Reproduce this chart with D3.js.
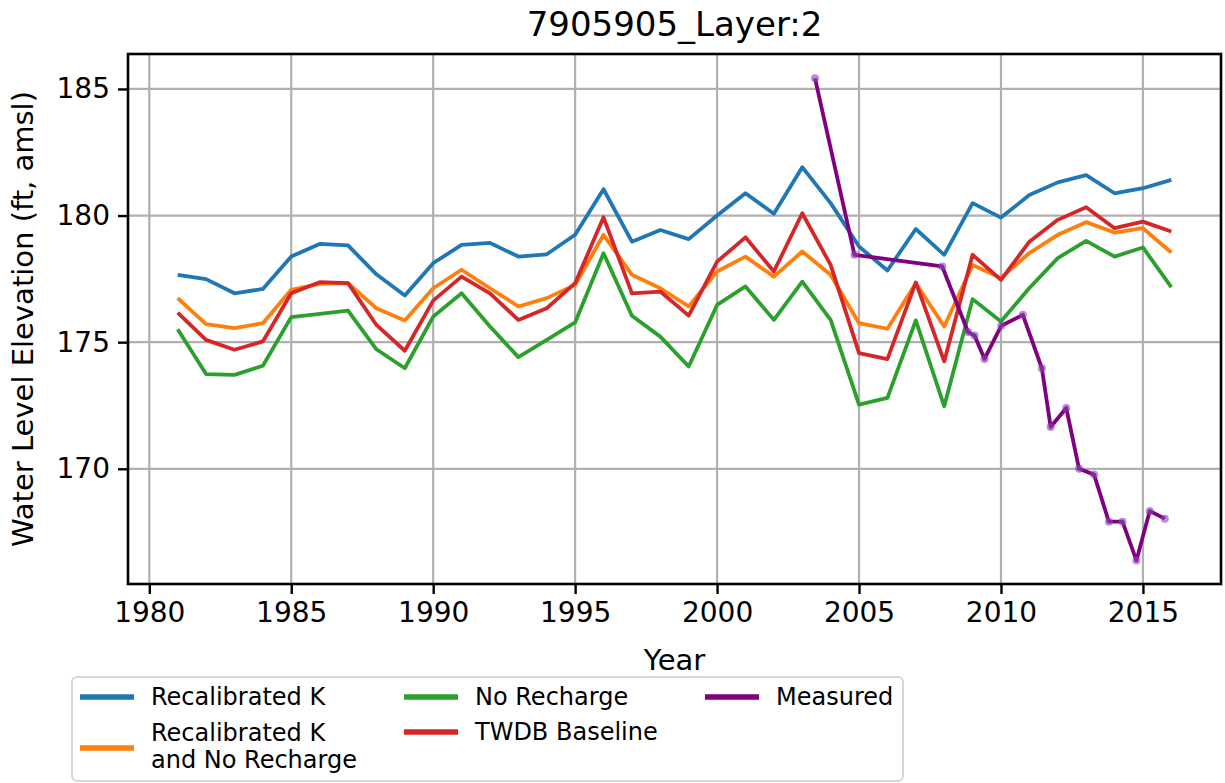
<!DOCTYPE html>
<html>
<head>
<meta charset="utf-8">
<script src="https://cdn.jsdelivr.net/npm/d3@7"></script>
<style>
    body { margin: 0; background: #fff; }
    text { font-family: 'DejaVu Sans', sans-serif; fill: #000; }
</style>
</head>
<body>
<svg id="chart" width="1225" height="783"></svg>
<script>
const years = d3.range(1981, 2017);

const recalK = [
    177.66, 177.49, 176.93, 177.10, 178.38, 178.88, 178.82, 177.68, 176.84, 178.12,
    178.84, 178.92, 178.38, 178.47, 179.24, 181.04, 178.97, 179.43, 179.07, 180.00,
    180.88, 180.07, 181.91, 180.49, 178.78, 177.83, 179.47, 178.45, 180.49, 179.92,
    180.81, 181.31, 181.60, 180.88, 181.08, 181.41,
];
const recalKNoRecharge = [
    176.74, 175.71, 175.55, 175.75, 177.07, 177.30, 177.33, 176.34, 175.86, 177.13,
    177.86, 177.13, 176.41, 176.74, 177.26, 179.24, 177.66, 177.13, 176.41, 177.79,
    178.38, 177.59, 178.58, 177.66, 175.75, 175.53, 177.33, 175.62, 178.05, 177.53,
    178.52, 179.24, 179.74, 179.33, 179.50, 178.54,
];
const noRecharge = [
    175.51, 173.74, 173.71, 174.07, 175.99, 176.12, 176.25, 174.72, 173.97, 176.01,
    176.93, 175.62, 174.41, 175.09, 175.78, 178.51, 176.04, 175.22, 174.04, 176.47,
    177.20, 175.88, 177.39, 175.88, 172.53, 172.80, 175.86, 172.47, 176.70, 175.82,
    177.14, 178.32, 179.00, 178.38, 178.74, 177.17,
];
const twdbBaseline = [
    176.17, 175.09, 174.70, 175.03, 176.93, 177.37, 177.33, 175.68, 174.66, 176.64,
    177.59, 176.93, 175.88, 176.34, 177.33, 179.93, 176.93, 177.00, 176.05, 178.18,
    179.14, 177.79, 180.09, 178.05, 174.57, 174.33, 177.36, 174.24, 178.45, 177.46,
    178.97, 179.83, 180.33, 179.50, 179.76, 179.37,
];

// measured dates are decimal years
const measuredDates = [
    2003.45, 2004.84, 2007.93, 2008.84, 2009.07, 2009.42, 2010.01, 2010.77, 2011.44,
    2011.75, 2012.30, 2012.75, 2013.28, 2013.80, 2014.28, 2014.77, 2015.24, 2015.77,
];
const measuredValues = [
    185.42, 178.45, 177.99, 175.40, 175.26, 174.34, 175.65, 176.08, 173.97,
    171.65, 172.40, 170.00, 169.77, 167.91, 167.91, 166.38, 168.33, 168.03,
];

const xTicks = [1980, 1985, 1990, 1995, 2000, 2005, 2010, 2015];
const yTicks = [170, 175, 180, 185];

const title = '7905905_Layer:2';
const xLabel = 'Year';
const yLabel = 'Water Level Elevation (ft, amsl)';

const series = [
    { name: 'Recalibrated K', values: recalK, color: '#1f77b4' },
    { name: 'Recalibrated K\nand No Recharge', values: recalKNoRecharge, color: '#ff7f0e' },
    { name: 'No Recharge', values: noRecharge, color: '#2ca02c' },
    { name: 'TWDB Baseline', values: twdbBaseline, color: '#d62728' },
];
const measuredColor = '#800080';

const plot = { left: 128, right: 1221, top: 54, bottom: 584 };

const svg = d3.select('#chart');

const x = d3.scaleLinear().domain([1979.25, 2017.75]).range([plot.left, plot.right]);
const y = d3.scaleLinear().domain([165.45, 186.38]).range([plot.bottom, plot.top]);

// grid
const grid = svg.append('g');
xTicks.forEach((t) =>
{
    grid.append('line')
        .attr('x1', x(t)).attr('x2', x(t))
        .attr('y1', plot.top).attr('y2', plot.bottom)
        .attr('stroke', '#b0b0b0').attr('stroke-width', 2.2);
});
yTicks.forEach((t) =>
{
    grid.append('line')
        .attr('x1', plot.left).attr('x2', plot.right)
        .attr('y1', y(t)).attr('y2', y(t))
        .attr('stroke', '#b0b0b0').attr('stroke-width', 2.2);
});

const line = d3.line()
    .x(d => x(d[0]))
    .y(d => y(d[1]));

svg.append('clipPath').attr('id', 'plotClip')
    .append('rect')
    .attr('x', plot.left).attr('y', plot.top)
    .attr('width', plot.right - plot.left).attr('height', plot.bottom - plot.top);

const lines = svg.append('g').attr('clip-path', 'url(#plotClip)');

series.forEach((s) =>
{
    lines.append('path')
        .datum(years.map((yr, i) => [yr, s.values[i]]))
        .attr('d', line)
        .attr('fill', 'none')
        .attr('stroke', s.color)
        .attr('stroke-width', 3.8)
        .attr('stroke-linejoin', 'round');
});

const measured = measuredDates.map((d, i) => [d, measuredValues[i]]);
lines.append('path')
    .datum(measured)
    .attr('d', line)
    .attr('fill', 'none')
    .attr('stroke', measuredColor)
    .attr('stroke-width', 3.8)
    .attr('stroke-linejoin', 'round');
lines.selectAll('circle.meas')
    .data(measured)
    .enter()
    .append('circle')
    .attr('class', 'meas')
    .attr('cx', d => x(d[0]))
    .attr('cy', d => y(d[1]))
    .attr('r', 4)
    .attr('fill', '#8a3fb8')
    .attr('fill-opacity', 0.6);

// axes
const xAxis = svg.append('g')
    .attr('transform', `translate(0,${plot.bottom})`)
    .call(d3.axisBottom(x).tickValues(xTicks).tickFormat(d3.format('d')).tickSizeOuter(0).tickSize(10).tickPadding(8));
const yAxis = svg.append('g')
    .attr('transform', `translate(${plot.left},0)`)
    .call(d3.axisLeft(y).tickValues(yTicks).tickFormat(d3.format('d')).tickSizeOuter(0).tickSize(10).tickPadding(8));

[xAxis, yAxis].forEach((a) =>
{
    a.select('.domain').remove();
    a.selectAll('.tick line').attr('stroke', '#000').attr('stroke-width', 2.4);
    a.selectAll('.tick text')
        .style('font-family', "'DejaVu Sans', sans-serif")
        .style('font-size', '28px')
        .attr('fill', '#000');
});

svg.append('rect')
    .attr('x', plot.left).attr('y', plot.top)
    .attr('width', plot.right - plot.left).attr('height', plot.bottom - plot.top)
    .attr('fill', 'none')
    .attr('stroke', '#000')
    .attr('stroke-width', 2.6);

// titles
svg.append('text')
    .attr('x', (plot.left + plot.right) / 2)
    .attr('y', 36)
    .attr('text-anchor', 'middle')
    .style('font-size', '34px')
    .text(title);

svg.append('text')
    .attr('x', (plot.left + plot.right) / 2)
    .attr('y', 670)
    .attr('text-anchor', 'middle')
    .style('font-size', '29px')
    .text(xLabel);

svg.append('text')
    .attr('transform', `translate(33,${(plot.top + plot.bottom) / 2}) rotate(-90)`)
    .attr('text-anchor', 'middle')
    .style('font-size', '29px')
    .text(yLabel);

// legend
const legend = svg.append('g');
legend.append('rect')
    .attr('x', 72).attr('y', 677)
    .attr('width', 831).attr('height', 104)
    .attr('rx', 5)
    .attr('fill', '#fff')
    .attr('fill-opacity', 0.8)
    .attr('stroke', '#d6d6d6')
    .attr('stroke-width', 2);

const legendItems = [
    { s: series[0], lx: 80, ly: 697, tx: 151, lines: [697] },
    { s: series[1], lx: 80, ly: 748, tx: 151, lines: [733, 760] },
    { s: series[2], lx: 404, ly: 697, tx: 475, lines: [697] },
    { s: series[3], lx: 404, ly: 732, tx: 475, lines: [732] },
    { s: { name: 'Measured', color: measuredColor }, lx: 705, ly: 697, tx: 776, lines: [697] },
];

legendItems.forEach((item) =>
{
    legend.append('line')
        .attr('x1', item.lx).attr('x2', item.lx + 54)
        .attr('y1', item.ly).attr('y2', item.ly)
        .attr('stroke', item.s.color)
        .attr('stroke-width', 5.5);
    const parts = item.s.name.split('\n');
    parts.forEach((p, i) =>
    {
        legend.append('text')
            .attr('x', item.tx)
            .attr('y', item.lines[i] + 8)
            .style('font-size', '24px')
            .text(p);
    });
});
</script>
</body>
</html>
